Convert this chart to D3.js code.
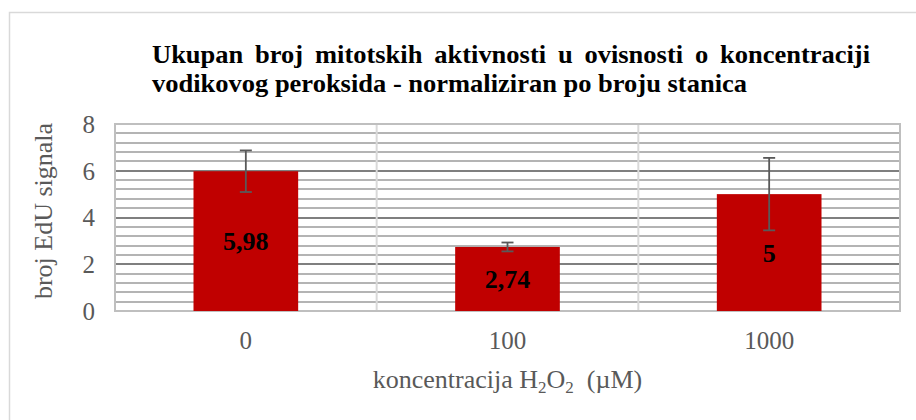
<!DOCTYPE html>
<html>
<head>
<meta charset="utf-8">
<script src="https://cdn.jsdelivr.net/npm/d3@7"></script>
<style>
  body { margin: 0; background: #fff; }
  svg text { font-family: "Liberation Serif", "Times New Roman", serif; }
</style>
</head>
<body>
<div id="chart"></div>
<script>
"use strict"

let categories = ["0", "100", "1000"];
let values = [5.98, 2.74, 5];
let errors = [0.89, 0.19, 1.55];
let valueLabels = ["5,98", "2,74", "5"];
let yTicks = [0, 2, 4, 6, 8];
let titleLines = [
  "Ukupan broj mitotskih aktivnosti u ovisnosti o koncentraciji",
  "vodikovog peroksida - normaliziran po broju stanica"
];

let Chart = function() {
  let width = 916;
  let height = 420;
  let plot = { left: 115, right: 900, top: 124, bottom: 311 };

  let svg = d3.select("#chart").append("svg")
              .attr("width", width)
              .attr("height", height);

  let x = d3.scaleBand()
            .domain(categories)
            .range([plot.left, plot.right])
            .paddingInner(0)
            .paddingOuter(0);

  let y = d3.scaleLinear()
            .domain([0, 8])
            .range([plot.bottom, plot.top]);

  // outer chart border
  svg.append("rect")
     .attr("x", 9.5).attr("y", 12.5)
     .attr("width", 930).attr("height", 430)
     .attr("fill", "none")
     .attr("stroke", "#d9d9d9")
     .attr("stroke-width", 1.5);

  drawTitle();
  drawGrid();
  drawBars();
  drawAxes();

  function drawTitle()
  {
    let left = 152, right = 870, fs = 26;
    let g = svg.append("g").attr("font-weight", "bold").attr("font-size", fs).attr("fill", "#000");

    // measure second line to get compression factor
    let probe = g.append("text").text(titleLines[1]);
    let natural = probe.node().getComputedTextLength();
    probe.remove();
    let s = 595 / natural;

    // line 1 justified word by word
    let words = titleLines[0].split(" ");
    let widths = words.map(function(w){
      let t = g.append("text").text(w);
      let len = t.node().getComputedTextLength() * s;
      t.remove();
      return len;
    });
    let total = d3.sum(widths);
    let gap = (right - left - total) / (words.length - 1);
    let cx = left;
    words.forEach(function(w, i){
      g.append("text")
       .attr("x", cx).attr("y", 63)
       .attr("textLength", widths[i])
       .attr("lengthAdjust", "spacingAndGlyphs")
       .text(w);
      cx += widths[i] + gap;
    });

    g.append("text")
     .attr("x", left).attr("y", 92)
     .attr("textLength", 595)
     .attr("lengthAdjust", "spacingAndGlyphs")
     .text(titleLines[1]);
  }

  function drawGrid()
  {
    let minorTicks = d3.range(0, 8.001, 0.4);
    let grid = svg.append("g").attr("class", "grid");

    grid.selectAll(".minor")
        .data(minorTicks)
        .enter().append("line")
        .attr("class", "minor")
        .attr("x1", plot.left).attr("x2", plot.right)
        .attr("y1", d => Math.round(y(d))).attr("y2", d => Math.round(y(d)))
        .style("stroke", "#b4b4b4")
        .style("stroke-width", "2px");

    grid.selectAll(".major")
        .data(yTicks.filter(d => d > 0 && d < 8))
        .enter().append("line")
        .attr("class", "major")
        .attr("x1", plot.left).attr("x2", plot.right)
        .attr("y1", d => Math.round(y(d))).attr("y2", d => Math.round(y(d)))
        .style("stroke", "#7f7f7f")
        .style("stroke-width", "2px");

    // vertical category separators
    grid.selectAll(".sep")
        .data(categories.slice(1))
        .enter().append("line")
        .attr("class", "sep")
        .attr("x1", d => x(d)).attr("x2", d => x(d))
        .attr("y1", plot.top).attr("y2", plot.bottom)
        .style("stroke", "#d9d9d9")
        .style("stroke-width", "2px");

    // plot area border
    svg.append("rect")
       .attr("x", plot.left).attr("y", plot.top)
       .attr("width", plot.right - plot.left)
       .attr("height", plot.bottom - plot.top)
       .attr("fill", "none")
       .attr("stroke", "#bfbfbf")
       .attr("stroke-width", 2);
  }

  function drawBars()
  {
    let bw = x.bandwidth() * 0.4;
    let data = categories.map(function(c, i){
      return { cat: c, value: values[i], err: errors[i], label: valueLabels[i] };
    });

    let g = svg.append("g");
    g.selectAll("rect.bar")
     .data(data)
     .join("rect")
     .attr("x", d => x(d.cat) + x.bandwidth() / 2 - bw / 2)
     .attr("y", d => y(d.value))
     .attr("width", bw)
     .attr("height", d => y(0) - y(d.value))
     .attr("fill", "#c00000");

    let eb = g.selectAll("g.err")
              .data(data)
              .join("g")
              .attr("stroke", "#595959")
              .attr("stroke-width", 1.8);
    eb.append("line")
      .attr("x1", d => x(d.cat) + x.bandwidth() / 2)
      .attr("x2", d => x(d.cat) + x.bandwidth() / 2)
      .attr("y1", d => y(d.value + d.err))
      .attr("y2", d => y(d.value - d.err));
    eb.append("line")
      .attr("x1", d => x(d.cat) + x.bandwidth() / 2 - 6)
      .attr("x2", d => x(d.cat) + x.bandwidth() / 2 + 6)
      .attr("y1", d => y(d.value + d.err))
      .attr("y2", d => y(d.value + d.err));
    eb.append("line")
      .attr("x1", d => x(d.cat) + x.bandwidth() / 2 - 6)
      .attr("x2", d => x(d.cat) + x.bandwidth() / 2 + 6)
      .attr("y1", d => y(d.value - d.err))
      .attr("y2", d => y(d.value - d.err));

    g.selectAll("text.lbl")
     .data(data)
     .join("text")
     .attr("x", d => x(d.cat) + x.bandwidth() / 2)
     .attr("y", d => (y(d.value) + y(0)) / 2 + 9)
     .attr("text-anchor", "middle")
     .attr("font-size", 26)
     .attr("font-weight", "bold")
     .attr("fill", "#000")
     .text(d => d.label);
  }

  function drawAxes()
  {
    let yAxis = svg.append("g")
                   .attr("transform", "translate(" + (plot.left - 20) + ",0)")
                   .call(d3.axisLeft(y).tickValues(yTicks).tickSize(0).tickPadding(0));
    yAxis.select(".domain").remove();
    yAxis.selectAll("text")
         .attr("font-size", 25)
         .attr("fill", "#595959")
         .attr("dy", "0.33em");

    let xAxis = svg.append("g")
                   .attr("transform", "translate(0," + plot.bottom + ")")
                   .call(d3.axisBottom(x).tickSize(0).tickPadding(20));
    xAxis.select(".domain").remove();
    xAxis.selectAll("text")
         .attr("font-size", 25)
         .attr("fill", "#595959")
         .attr("dy", "0.71em");

    svg.append("text")
       .attr("transform", "translate(52," + 211 + ") rotate(-90)")
       .attr("text-anchor", "middle")
       .attr("font-size", 26)
       .attr("fill", "#595959")
       .text("broj EdU signala");

    let xt = svg.append("text")
                .attr("x", (plot.left + plot.right) / 2)
                .attr("y", 388)
                .attr("text-anchor", "middle")
                .attr("font-size", 26)
                .attr("fill", "#595959");
    xt.append("tspan").text("koncentracija H");
    xt.append("tspan").attr("font-size", 17).attr("dy", 5).text("2");
    xt.append("tspan").attr("dy", -5).text("O");
    xt.append("tspan").attr("font-size", 17).attr("dy", 5).text("2");
    xt.append("tspan").attr("dy", -5).text("\u00a0 (\u00b5M)");
  }
}

Chart();
</script>
</body>
</html>
